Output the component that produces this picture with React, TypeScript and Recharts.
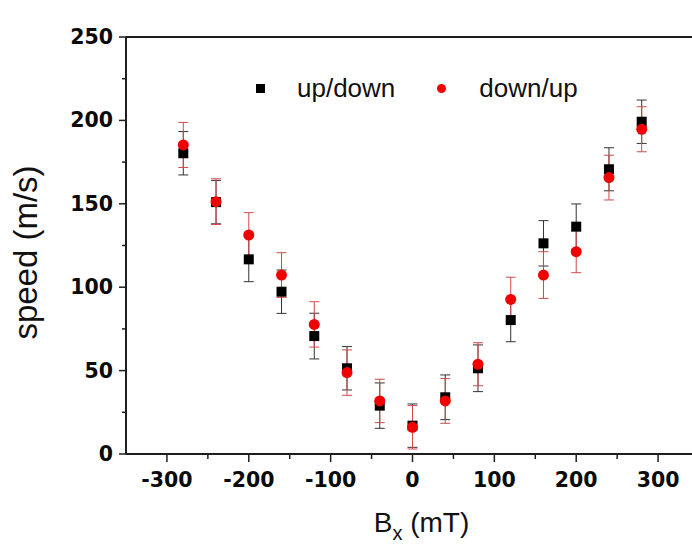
import { ScatterChart, Scatter, XAxis, YAxis, ErrorBar, ReferenceLine, Legend } from 'recharts';

const BX = [-280, -240, -200, -160, -120, -80, -40, 0, 40, 80, 120, 160, 200, 240, 280];
const UP_DOWN = [180.3, 151, 116.7, 97.3, 70.7, 51.4, 29, 17, 34, 51.4, 80.3, 126.3, 136.3, 170.7, 199.2];
const UP_DOWN_ERR = [13, 13, 13.4, 13, 13.7, 13, 13.6, 13, 13.4, 14, 13, 13.6, 13.6, 12.9, 13];
const DOWN_UP = [185.3, 151.3, 131.3, 107.3, 77.7, 48.8, 31.8, 16, 31.8, 53.8, 92.7, 107.3, 121.3, 165.7, 194.7];
const DOWN_UP_ERR = [13.5, 13.7, 13.4, 13.4, 13.6, 13.6, 13, 13, 13.4, 12.9, 13.3, 14, 12.6, 13.4, 13.5];

const X_TICKS = [-350, -300, -250, -200, -150, -100, -50, 0, 50, 100, 150, 200, 250, 300, 350];
const Y_TICKS = [0, 25, 50, 75, 100, 125, 150, 175, 200, 225, 250];
const SERIES = ['up/down', 'down/up'];

const RED = '#f20000';
const AXIS = '#1e1e1e';
const TICK_FONT = '"DejaVu Sans", sans-serif';
const TEXT_FONT = '"Liberation Sans", Arial, sans-serif';

const upDownData = BX.map((x, i) => ({ x, y: UP_DOWN[i], err: UP_DOWN_ERR[i] }));
const downUpData = BX.map((x, i) => ({ x, y: DOWN_UP[i], err: DOWN_UP_ERR[i] }));

const Square = (p: any) => <rect x={p.cx - 5} y={p.cy - 5} width={10} height={10} fill="#000" />;
const Dot = (p: any) => <circle cx={p.cx} cy={p.cy} r={5.5} fill={RED} />;

const XTick = (p: any) => {
  const v = p.payload.value;
  const major = v % 100 === 0;
  if (v === -350 || v === 350) return null;
  return (
    <g>
      <line x1={p.x} x2={p.x} y1={p.y - 8} y2={p.y - 8 + (major ? 8 : 5)} stroke={AXIS} strokeWidth={1.5} />
      {major && (
        <text x={p.x} y={p.y + 25} textAnchor="middle" fontFamily={TICK_FONT} fontWeight="bold" fontSize={20.5} fill="#0a0a0a">
          {String(v)}
        </text>
      )}
    </g>
  );
};

const YTick = (p: any) => {
  const v = p.payload.value;
  const major = v % 50 === 0;
  return (
    <g>
      <line x1={p.x + (major ? 0 : 3)} x2={p.x + 7} y1={p.y} y2={p.y} stroke={AXIS} strokeWidth={1.5} />
      {major && (
        <text x={p.x - 6} y={p.y + 7} textAnchor="end" fontFamily={TICK_FONT} fontWeight="bold" fontSize={20.5} fill="#0a0a0a">
          {String(v)}
        </text>
      )}
    </g>
  );
};

const XTitle = (p: any) => {
  const vb = p.viewBox;
  return (
    <text x={vb.x + vb.width / 2 + 9} y={vb.y + 78} textAnchor="middle" fontFamily={TEXT_FONT} fontSize={28} fill="#111">
      <tspan>B</tspan>
      <tspan fontSize={20} dy={8}>x</tspan>
      <tspan dy={-8}> (mT)</tspan>
    </text>
  );
};

const YTitle = (p: any) => {
  const vb = p.viewBox;
  return (
    <text
      transform={`translate(${vb.x - 19}, ${vb.y + vb.height / 2 + 7}) rotate(-90)`}
      textAnchor="middle"
      fontFamily={TEXT_FONT}
      fontSize={33}
      fill="#111"
    >
      speed (m/s)
    </text>
  );
};

const LegendBox = () => (
  <div style={{ display: 'flex', alignItems: 'center', fontFamily: TEXT_FONT, fontSize: 26, lineHeight: '30px', color: '#111' }}>
    <span style={{ width: 9, height: 9, background: '#000', display: 'inline-block' }} />
    <span style={{ marginLeft: 32 }}>{SERIES[0]}</span>
    <span style={{ width: 9, height: 9, borderRadius: '50%', background: RED, display: 'inline-block', marginLeft: 42 }} />
    <span style={{ marginLeft: 33 }}>{SERIES[1]}</span>
  </div>
);

export default function App() {
  return (
    <div style={{ position: 'fixed', left: 0, top: 0, width: 692, height: 545, overflow: 'hidden', background: '#fff' }}>
      <ScatterChart width={712} height={545} margin={{ top: 37, right: 13, bottom: 31, left: 56 }}>
        <XAxis
          type="number"
          dataKey="x"
          domain={[-350, 350]}
          ticks={X_TICKS}
          interval={0}
          height={60}
          tickSize={8}
          tickMargin={0}
          tickLine={false}
          axisLine={{ stroke: AXIS, strokeWidth: 2 }}
          tick={<XTick />}
          label={XTitle}
        />
        <YAxis
          type="number"
          dataKey="y"
          domain={[0, 250]}
          ticks={Y_TICKS}
          interval={0}
          width={70}
          tickSize={7}
          tickMargin={0}
          tickLine={false}
          axisLine={{ stroke: AXIS, strokeWidth: 2 }}
          tick={<YTick />}
          label={YTitle}
        />
        <ReferenceLine y={250} stroke={AXIS} strokeWidth={2} />
        <ReferenceLine x={350} stroke={AXIS} strokeWidth={2} />
        <Legend layout="horizontal" verticalAlign="middle" align="center" content={LegendBox} wrapperStyle={{ top: 73, left: 256, width: 'auto' }} />
        <Scatter name={SERIES[0]} data={upDownData} shape={Square} isAnimationActive={false}>
          <ErrorBar dataKey="err" direction="y" width={5} stroke="#333" strokeWidth={1} isAnimationActive={false} />
        </Scatter>
        <Scatter name={SERIES[1]} data={downUpData} shape={Dot} isAnimationActive={false}>
          <ErrorBar dataKey="err" direction="y" width={5} stroke="#d24a4a" strokeWidth={1} isAnimationActive={false} />
        </Scatter>
      </ScatterChart>
    </div>
  );
}
